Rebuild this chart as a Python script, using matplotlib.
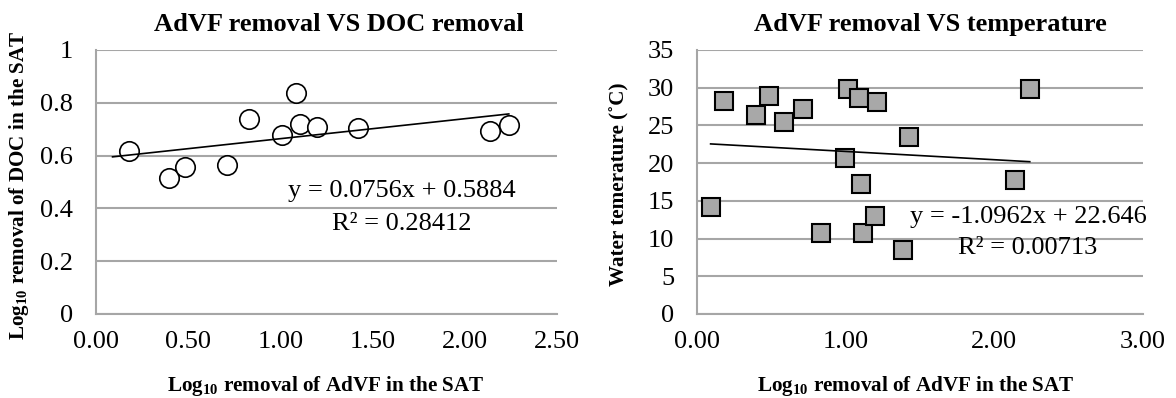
import matplotlib
matplotlib.use("Agg")
import matplotlib.pyplot as plt
import numpy as np

plt.rcParams['font.family'] = ['Liberation Serif', 'DejaVu Serif']
plt.rcParams['mathtext.fontset'] = 'custom'
plt.rcParams['mathtext.rm'] = 'Liberation Serif'
plt.rcParams['mathtext.bf'] = 'Liberation Serif:bold'

# AdVF removal vs DOC removal
doc_x = [0.178, 0.396, 0.482, 0.712, 0.831, 1.010, 1.086, 1.106, 1.200, 1.422, 2.137, 2.239]
doc_y = [0.618, 0.516, 0.557, 0.563, 0.738, 0.677, 0.838, 0.719, 0.708, 0.703, 0.692, 0.716]
doc_fit = (0.0756, 0.5884)
doc_eq = "y = 0.0756x + 0.5884"
doc_r2 = "R\u00b2 = 0.28412"

# AdVF removal vs water temperature
temp_x = [0.094, 0.182, 0.397, 0.480, 0.585, 0.711, 0.834, 0.996, 1.014,
          1.090, 1.101, 1.115, 1.200, 1.209, 1.386, 1.429, 2.141, 2.241]
temp_y = [14.24, 28.26, 26.40, 28.92, 25.39, 27.24, 10.80, 20.72, 29.84,
          28.70, 17.28, 10.80, 13.00, 28.08, 8.51, 23.50, 17.77, 29.88]
temp_fit = (-1.0962, 22.646)
temp_eq = "y = -1.0962x + 22.646"
temp_r2 = "R\u00b2 = 0.00713"

fit_span = [0.09, 2.24]

xlab = r"Log$_{\mathbf{10}}$ removal of AdVF in the SAT"
grid_c = '#a6a6a6'
fs = 19

fig = plt.figure(figsize=(11.76, 3.98), dpi=100)
ax1 = fig.add_axes([0.0816, 0.2111, 0.3918, 0.6633])
ax2 = fig.add_axes([0.5929, 0.2111, 0.3787, 0.6633])


def style(ax):
    for s in ['top', 'right']:
        ax.spines[s].set_visible(False)
    for s in ['left', 'bottom']:
        ax.spines[s].set_color(grid_c)
        ax.spines[s].set_linewidth(1.5)
    ax.grid(axis='y', color=grid_c, linewidth=1.5)
    ax.set_axisbelow(True)
    ax.tick_params(axis='y', length=0, pad=16.5, labelsize=fs)
    ax.tick_params(axis='x', length=0, pad=12.5, labelsize=fs)


# left
style(ax1)
ax1.plot(doc_x, doc_y, 'o', ms=14, mfc='white', mec='black', mew=1.2, zorder=3)
fx = np.array(fit_span)
ax1.plot(fx, doc_fit[0] * fx + doc_fit[1], color='black', lw=1.2, zorder=4)
ax1.set_xlim(0, 2.5)
ax1.set_ylim(0, 1)
ax1.set_xticks(np.arange(0, 2.51, 0.5))
ax1.set_xticklabels(["%.2f" % v for v in np.arange(0, 2.51, 0.5)])
ax1.set_yticks([0, 0.2, 0.4, 0.6, 0.8, 1])
ax1.set_yticklabels(["0", "0.2", "0.4", "0.6", "0.8", "1"])
ax1.text(1.66, 0.443, doc_eq, ha='center', va='baseline', fontsize=fs, zorder=5)
ax1.text(1.66, 0.318, doc_r2, ha='center', va='baseline', fontsize=fs, zorder=5)

# right
style(ax2)
ax2.plot(temp_x, temp_y, 's', ms=13, mfc='#a8a8a8', mec='black', mew=1.5, zorder=3)
ax2.plot(fx, temp_fit[0] * fx + temp_fit[1], color='black', lw=1.2, zorder=4)
ax2.set_xlim(0, 3)
ax2.set_ylim(0, 35)
ax2.set_xticks([0, 1, 2, 3])
ax2.set_xticklabels(["0.00", "1.00", "2.00", "3.00"])
ax2.set_yticks(range(0, 36, 5))
ax2.text(2.228, 12.12, temp_eq, ha='center', va='baseline', fontsize=fs, zorder=5)
ax2.text(2.228, 7.9, temp_r2, ha='center', va='baseline', fontsize=fs, zorder=5)

# titles and labels
fig.text(0.288, 0.921, "AdVF removal VS DOC removal", ha='center', va='baseline',
         fontsize=fs, fontweight='bold')
fig.text(0.791, 0.921, "AdVF removal VS temperature", ha='center', va='baseline',
         fontsize=fs, fontweight='bold')
fig.text(0.277, 0.0184, xlab, ha='center', va='baseline', fontsize=15.2, fontweight='bold')
fig.text(0.779, 0.0184, xlab, ha='center', va='baseline', fontsize=15.2, fontweight='bold')
fig.text(19 / 1176, 0.535, r"Log$_{\mathbf{10}}$ removal of DOC in the SAT", rotation=90,
         ha='center', va='center', fontsize=15.2, fontweight='bold')
fig.text(619 / 1176, 0.536, "Water temerature (\u02daC)", rotation=90,
         ha='center', va='center', fontsize=15.2, fontweight='bold')

fig.savefig("out.png", dpi=100)
